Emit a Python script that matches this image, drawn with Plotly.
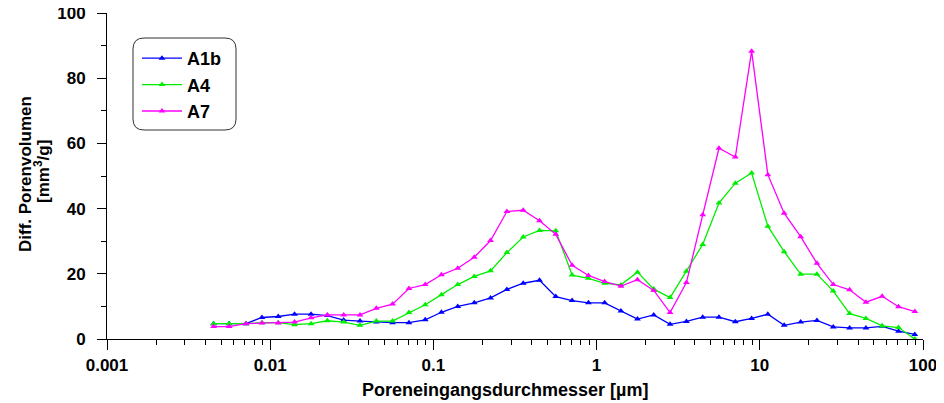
import plotly.graph_objects as go

# Pore entrance diameter [µm]
diameter = [0.0045, 0.0056, 0.0071, 0.0089, 0.0112, 0.0141, 0.0178, 0.0224, 0.0282, 0.0355,
            0.0447, 0.0562, 0.0708, 0.0891, 0.112, 0.141, 0.178, 0.224, 0.282, 0.355,
            0.447, 0.562, 0.708, 0.891, 1.12, 1.41, 1.78, 2.24, 2.82, 3.55,
            4.47, 5.62, 7.08, 8.91, 11.2, 14.1, 17.8, 22.4, 28.2, 35.5,
            44.7, 56.2, 70.8, 89.1]

a1b = [4.7, 4.7, 4.7, 6.6, 6.9, 7.6, 7.6, 7.2, 5.8, 5.5,
       5.2, 5.0, 5.0, 5.9, 8.2, 10.0, 11.1, 12.6, 15.2, 17.1,
       18.0, 13.0, 11.8, 11.1, 11.1, 8.6, 6.1, 7.4, 4.5, 5.4,
       6.7, 6.7, 5.3, 6.3, 7.6, 4.2, 5.2, 5.7, 3.7, 3.4,
       3.4, 3.9, 2.4, 1.4]

a4 = [4.7, 4.7, 4.7, 5.0, 5.0, 4.4, 4.7, 5.6, 5.2, 4.2,
      5.5, 5.5, 8.1, 10.5, 13.6, 16.7, 19.2, 20.9, 26.5, 31.3,
      33.3, 33.2, 19.6, 18.6, 17.1, 16.6, 20.5, 15.3, 12.7, 20.8,
      29.0, 41.7, 47.8, 50.9, 34.6, 26.8, 19.9, 19.9, 14.7, 7.8,
      6.3, 4.0, 3.5, 0.0]

a7 = [3.8, 3.8, 4.7, 4.9, 4.9, 5.2, 6.5, 7.4, 7.4, 7.4,
      9.4, 10.7, 15.5, 16.7, 19.7, 21.7, 25.1, 30.2, 39.1, 39.5,
      36.3, 32.1, 22.6, 19.5, 17.6, 16.2, 18.2, 14.9, 8.1, 17.3,
      38.1, 58.5, 55.8, 88.3, 50.4, 38.6, 31.4, 23.2, 16.7, 15.1,
      11.3, 13.1, 9.9, 8.4]

series_names = ["A1b", "A4", "A7"]
series_values = [a1b, a4, a7]
series_colors = ["#0000FF", "#00EE00", "#FF00FF"]

x_tickvals = [0.001, 0.01, 0.1, 1, 10, 100]
x_ticktext = ["0.001", "0.01", "0.1", "1", "10", "100"]
y_tickvals = [0, 20, 40, 60, 80, 100]

FONT = "Arial, Liberation Sans, sans-serif"

OFF = 8  # default page body margin
W, H = 944 - OFF, 403 - OFF
ML, MR, MT, MB = 107 - OFF, 21, 13 - OFF, 64
PW, PH = W - ML - MR, H - MT - MB

fig = go.Figure()
for name, vals, col in zip(series_names, series_values, series_colors):
    fig.add_trace(go.Scatter(
        x=diameter, y=vals, name=name, mode="lines+markers",
        line=dict(color=col, width=1.3),
        marker=dict(symbol="triangle-up", size=6, color=col),
    ))


def px2paper(px, py):
    # px, py in page pixels
    return (px - OFF - ML) / PW, (H - MB - (py - OFF)) / PH


# rounded legend box
bx0, by0, bx1, by1, r = 133, 38, 236, 130, 11
rx, ry = r / PW, r / PH
x0, y1 = px2paper(bx0, by0)
x1, y0 = px2paper(bx1, by1)
path = (f"M {x0+rx},{y1} L {x1-rx},{y1} Q {x1},{y1} {x1},{y1-ry} "
        f"L {x1},{y0+ry} Q {x1},{y0} {x1-rx},{y0} "
        f"L {x0+rx},{y0} Q {x0},{y0} {x0},{y0+ry} "
        f"L {x0},{y1-ry} Q {x0},{y1} {x0+rx},{y1} Z")
fig.add_shape(type="path", path=path, xref="paper", yref="paper",
              line=dict(color="#333333", width=1), fillcolor="rgba(0,0,0,0)")

lx, ly = px2paper(137, 40)
fig.update_layout(
    width=W, height=H,
    margin=dict(l=ML, r=MR, t=MT, b=MB, autoexpand=False),
    paper_bgcolor="white", plot_bgcolor="white",
    font=dict(family=FONT, color="black"),
    showlegend=True,
    legend=dict(x=lx, y=ly, xanchor="left", yanchor="top",
                bgcolor="rgba(0,0,0,0)", borderwidth=0,
                font=dict(family=FONT, size=18, weight="bold", color="black"),
                tracegroupgap=0, itemwidth=40),
    xaxis=dict(type="log", range=[-3, 2], tickvals=x_tickvals, ticktext=x_ticktext,
               automargin=False, ticklabeloverflow="allow",
               showgrid=False, zeroline=False, showline=True, linecolor="black", linewidth=1,
               ticks="outside", ticklen=10, tickcolor="black", tickwidth=1,
               ticklabelstandoff=1,
               tickfont=dict(family=FONT, size=17, weight="bold", color="black"),
               minor=dict(ticks="outside", ticklen=5, tickcolor="black", dtick="D1", showgrid=False)),
    yaxis=dict(range=[0, 100], tickvals=y_tickvals,
               automargin=False, ticklabeloverflow="allow",
               showgrid=False, zeroline=False, showline=True, linecolor="black", linewidth=1,
               ticks="outside", ticklen=9, tickcolor="black", tickwidth=1,
               ticklabelstandoff=8,
               tickfont=dict(family=FONT, size=17, weight="bold", color="black"),
               minor=dict(ticks="outside", ticklen=5, tickcolor="black", dtick=10, showgrid=False)),
)

t1x, t1y = px2paper(25, 174)
fig.add_annotation(text="<b>Diff. Porenvolumen</b>", textangle=-90,
                   x=t1x, y=t1y, xref="paper", yref="paper", showarrow=False,
                   xanchor="center", yanchor="middle",
                   font=dict(family=FONT, size=17, color="black"))
t2x, t2y = px2paper(42, 172)
fig.add_annotation(text="<b>[mm<sup>3</sup>/g]</b>", textangle=-90,
                   x=t2x, y=t2y, xref="paper", yref="paper", showarrow=False,
                   xanchor="center", yanchor="middle",
                   font=dict(family=FONT, size=17, color="black"))
txx, txy = px2paper(505, 390)
fig.add_annotation(text="<b>Poreneingangsdurchmesser [µm]</b>",
                   x=txx, y=txy, xref="paper", yref="paper", showarrow=False,
                   xanchor="center", yanchor="middle",
                   font=dict(family=FONT, size=18, color="black"))

fig.write_html("out.html")
